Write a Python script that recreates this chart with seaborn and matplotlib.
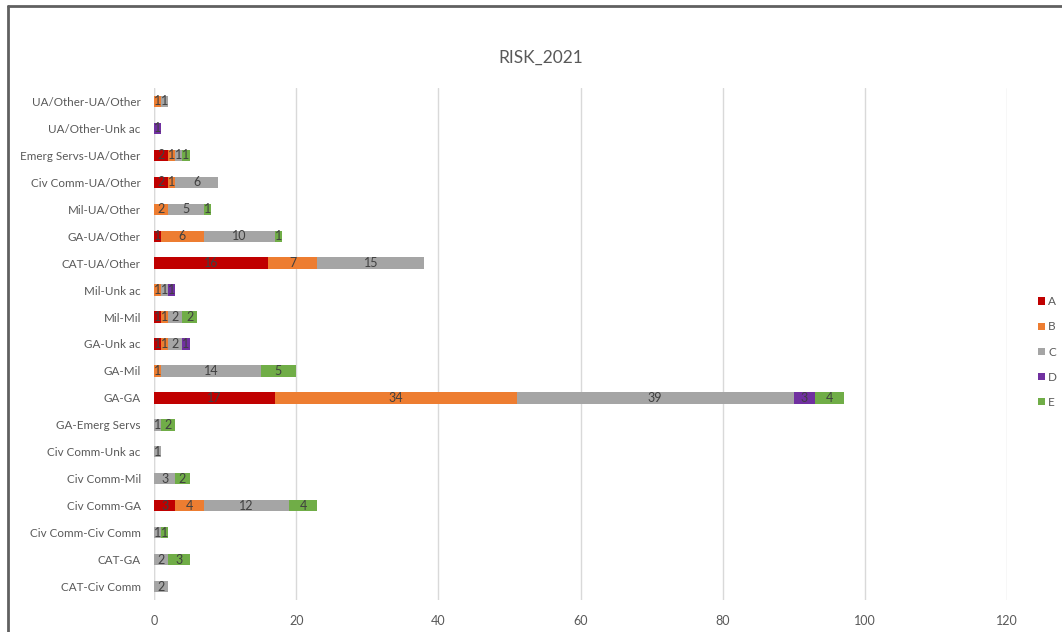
import numpy as np
import pandas as pd
import seaborn as sns
import matplotlib
matplotlib.use("Agg")
import matplotlib.pyplot as plt
from matplotlib.patches import Patch
from matplotlib.lines import Line2D

categories = [
    "UA/Other-UA/Other", "UA/Other-Unk ac", "Emerg Servs-UA/Other",
    "Civ Comm-UA/Other", "Mil-UA/Other", "GA-UA/Other", "CAT-UA/Other",
    "Mil-Unk ac", "Mil-Mil", "GA-Unk ac", "GA-Mil", "GA-GA",
    "GA-Emerg Servs", "Civ Comm-Unk ac", "Civ Comm-Mil", "Civ Comm-GA",
    "Civ Comm-Civ Comm", "CAT-GA", "CAT-Civ Comm",
]
series_A = [0, 0, 2, 2, 0, 1, 16, 0, 1, 1, 0, 17, 0, 0, 0, 3, 0, 0, 0]
series_B = [1, 0, 1, 1, 2, 6, 7, 1, 1, 1, 1, 34, 0, 0, 0, 4, 0, 0, 0]
series_C = [1, 0, 1, 6, 5, 10, 15, 1, 2, 2, 14, 39, 1, 1, 3, 12, 1, 2, 2]
series_D = [0, 1, 0, 0, 0, 0, 0, 1, 0, 1, 0, 3, 0, 0, 0, 0, 0, 0, 0]
series_E = [0, 0, 1, 0, 1, 1, 0, 0, 2, 0, 5, 4, 2, 0, 2, 4, 1, 3, 0]
series_names = ["A", "B", "C", "D", "E"]
colors = ["#C00000", "#ED7D31", "#A5A5A5", "#7030A0", "#70AD47"]
x_ticks = [0, 20, 40, 60, 80, 100, 120]
title = "RISK_2021"

sns.set_theme(style="white")
plt.rcParams["font.family"] = ["Lato", "DejaVu Sans"]

data = np.array([series_A, series_B, series_C, series_D, series_E], dtype=float)
cum = np.cumsum(data, axis=0)

fig = plt.figure(figsize=(10.62, 6.32), dpi=100)
ax = fig.add_axes([154 / 1062, 1 - 600 / 632, (1007 - 154) / 1062, (600 - 88) / 632])

# draw stacked bars from back (total) to front
for i in range(len(series_names) - 1, -1, -1):
    df = pd.DataFrame({"cat": categories, "val": cum[i]})
    sns.barplot(data=df, x="val", y="cat", order=categories, orient="h",
                color=colors[i], saturation=1, width=0.42, ax=ax,
                linewidth=0, zorder=3)

# data labels
for i in range(len(series_names)):
    for j, cat in enumerate(categories):
        v = data[i, j]
        if v > 0:
            mid = cum[i, j] - v / 2
            ax.text(mid, j, f"{int(v)}", ha="center", va="center",
                    fontsize=9, color="#404040", zorder=5)

ax.set_xlim(0, 120)
ax.set_xticks(x_ticks)
ax.set_xticklabels([str(t) for t in x_ticks])
ax.xaxis.grid(True, color="#D9D9D9", linewidth=1)
ax.set_axisbelow(True)
ax.set_xlabel("")
ax.set_ylabel("")
for s in ax.spines.values():
    s.set_visible(False)
ax.axvline(0, color="#D9D9D9", linewidth=1, zorder=1)
ax.tick_params(axis="x", length=0, pad=11, labelsize=9, labelcolor="#595959")
ax.tick_params(axis="y", length=0, pad=9.5, labelsize=8.4, labelcolor="#595959")

fig.text(541 / 1062, 1 - 58 / 632, title, ha="center", va="center",
         fontsize=12.5, color="#595959")

handles = [Patch(facecolor=c, edgecolor="none") for c in colors]
leg = fig.legend(handles, series_names, loc="center left",
                 bbox_to_anchor=(1030 / 1062, 1 - 352 / 632), frameon=False,
                 fontsize=8.5, labelcolor="#595959", handlelength=0.55,
                 handleheight=0.55, handletextpad=0.3, labelspacing=1.2,
                 borderpad=0.2)

# outer frame (left and top edges)
fig.add_artist(Line2D([8 / 1062, 8 / 1062], [0, 1 - 6 / 632], transform=fig.transFigure,
                      color="#606060", linewidth=2))
fig.add_artist(Line2D([8 / 1062, 1], [1 - 6 / 632, 1 - 6 / 632], transform=fig.transFigure,
                      color="#606060", linewidth=2))

fig.savefig("out.png", dpi=100, facecolor="white")
